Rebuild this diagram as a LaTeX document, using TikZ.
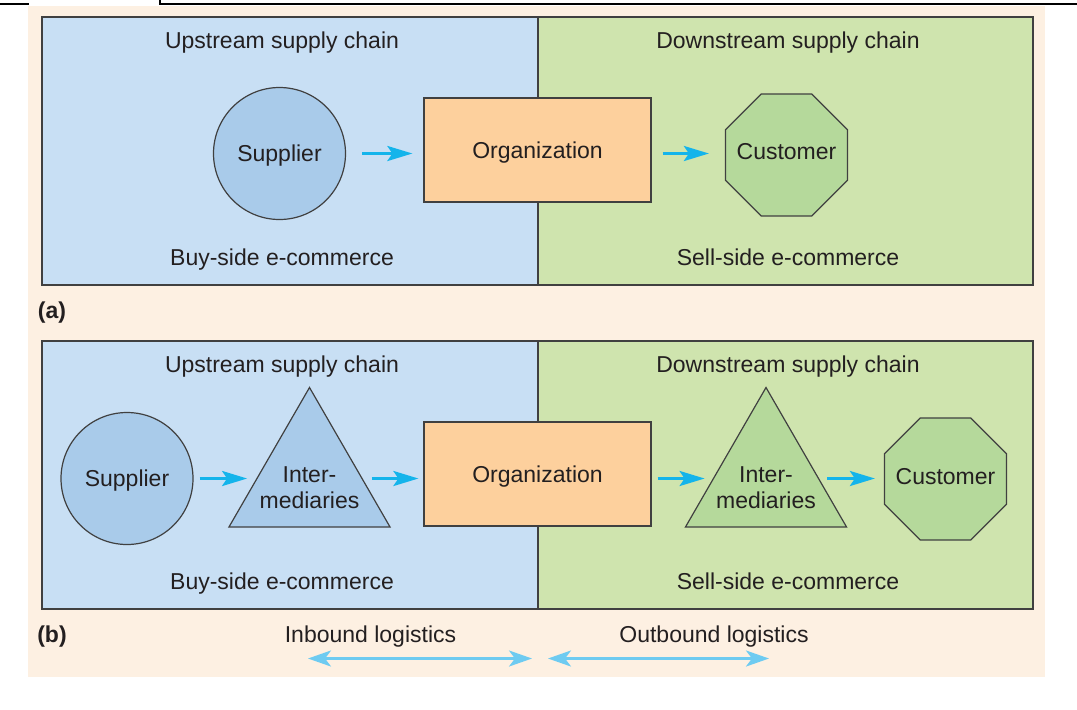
\documentclass[tikz,border=0pt]{standalone}
\usepackage{fontspec}
\setmainfont{Liberation Sans}
\usetikzlibrary{shapes.geometric,arrows.meta}

\definecolor{cream}{HTML}{FDF0E2}
\definecolor{upblue}{HTML}{C8DFF4}
\definecolor{supblue}{HTML}{A9CBEA}
\definecolor{downgreen}{HTML}{CFE4AE}
\definecolor{custgreen}{HTML}{B5D99B}
\definecolor{orgorange}{HTML}{FDD09D}
\definecolor{flowcyan}{HTML}{14B4EB}
\definecolor{logblue}{HTML}{6ECBF1}
\definecolor{edge}{HTML}{404040}
\definecolor{ink}{HTML}{231F20}

\begin{document}
\begin{tikzpicture}[x=0.5pt,y=-0.5pt,
  every node/.style={font={\fontsize{11.5}{13}\selectfont}, text=ink},
  panel/.style={draw=edge, line width=0.9pt},
  shapeline/.style={draw=edge, line width=0.6pt, inner sep=0pt, text depth=0pt},
  supplier/.style={shapeline, circle, fill=supblue, minimum size=66pt},
  organization/.style={shapeline, rectangle, fill=orgorange, minimum width=113.5pt, minimum height=52pt},
  customer/.style={shapeline, regular polygon, regular polygon sides=8, fill=custgreen, minimum size=66pt},
  middleman/.style={shapeline, regular polygon, regular polygon sides=3, minimum size=93pt},
  flow/.style={-{Stealth[length=12.5pt,width=7.5pt,inset=2.5pt]}, line width=1.5pt, draw=flowcyan},
  logistics/.style={{Stealth[length=11.5pt,width=8pt,inset=3pt]}-{Stealth[length=11.5pt,width=8pt,inset=3pt]}, line width=1.3pt, draw=logblue}]
  \useasboundingbox (0,0) rectangle (1077,709);
  \fill[cream] (28,6) rectangle (1045,677);
  \draw[line width=1pt] (0,4) -- (29,4) (160,0) -- (160,4) -- (1077,4);

  \draw[panel, fill=upblue] (42,17) rectangle (538,285);
  \draw[panel, fill=downgreen] (538,17) rectangle (1033,285);
  \draw[panel, fill=upblue] (42,341) rectangle (538,609);
  \draw[panel, fill=downgreen] (538,341) rectangle (1033,609);

  \node[anchor=base] (upa) at (282,48.5) {Upstream supply chain};
  \node[anchor=base] (downa) at (788,48.5) {Downstream supply chain};
  \node[anchor=base] (buya) at (282,265) {Buy-side e-commerce};
  \node[anchor=base] (sella) at (788,265) {Sell-side e-commerce};
  \node[anchor=base, font={\fontsize{11.5}{13}\selectfont\bfseries}] (taga) at (52,318) {(a)};

  \node[supplier] (supa) at (279.5,153.5) {Supplier};
  \node[organization] (orga) at (537.5,150) {Organization};
  \node[customer] (cusa) at (786.5,155) {};
  \node (cusatext) at (786.5,152) {Customer};
  \draw[flow, shorten <=8pt, shorten >=5.5pt] (supa.east) -- (supa.east -| orga.west);
  \draw[flow, shorten <=5.5pt, shorten >=8pt] (orga.east |- supa.east) -- (supa.east -| cusa.west);

  \node[anchor=base] (upb) at (282,372.5) {Upstream supply chain};
  \node[anchor=base] (downb) at (788,372.5) {Downstream supply chain};
  \node[anchor=base] (buyb) at (282,589) {Buy-side e-commerce};
  \node[anchor=base] (sellb) at (788,589) {Sell-side e-commerce};
  \node[anchor=base, font={\fontsize{11.5}{13}\selectfont\bfseries}] (tagb) at (52,642) {(b)};

  \node[supplier] (supb) at (127,478.5) {Supplier};
  \node[middleman, fill=supblue] (trib1) at (309.5,480.5) {};
  \node[align=center] (midb1) at (309.5,488) {Inter-\\mediaries};
  \node[organization] (orgb) at (537.5,474) {Organization};
  \node[middleman, fill=custgreen] (trib2) at (766,480.5) {};
  \node[align=center] (midb2) at (766,488) {Inter-\\mediaries};
  \node[customer] (cusb) at (945.5,479) {};
  \node (cusbtext) at (945.5,477) {Customer};
  \draw[flow, shorten <=3pt, shorten >=4pt] (supb.east) -- (supb.east -| trib1.west);
  \draw[flow, shorten <=4pt, shorten >=2.5pt] (supb.east -| trib1.east) -- (supb.east -| orgb.west);
  \draw[flow, shorten <=3pt, shorten >=3.5pt] (supb.east -| orgb.east) -- (supb.east -| trib2.west);
  \draw[flow, shorten <=3.5pt, shorten >=4.5pt] (supb.east -| trib2.east) -- (supb.east -| cusb.west);

  \node[anchor=base] (inlog) at (370.5,642) {Inbound logistics};
  \node[anchor=base] (outlog) at (714,642) {Outbound logistics};
  \coordinate (inL) at (308,658.5);
  \coordinate (inR) at (532,658.5);
  \coordinate (outL) at (548,658.5);
  \coordinate (outR) at (769,658.5);
  \draw[logistics] (inL) -- (inR);
  \draw[logistics] (outL) -- (outR);
\end{tikzpicture}
\end{document}
